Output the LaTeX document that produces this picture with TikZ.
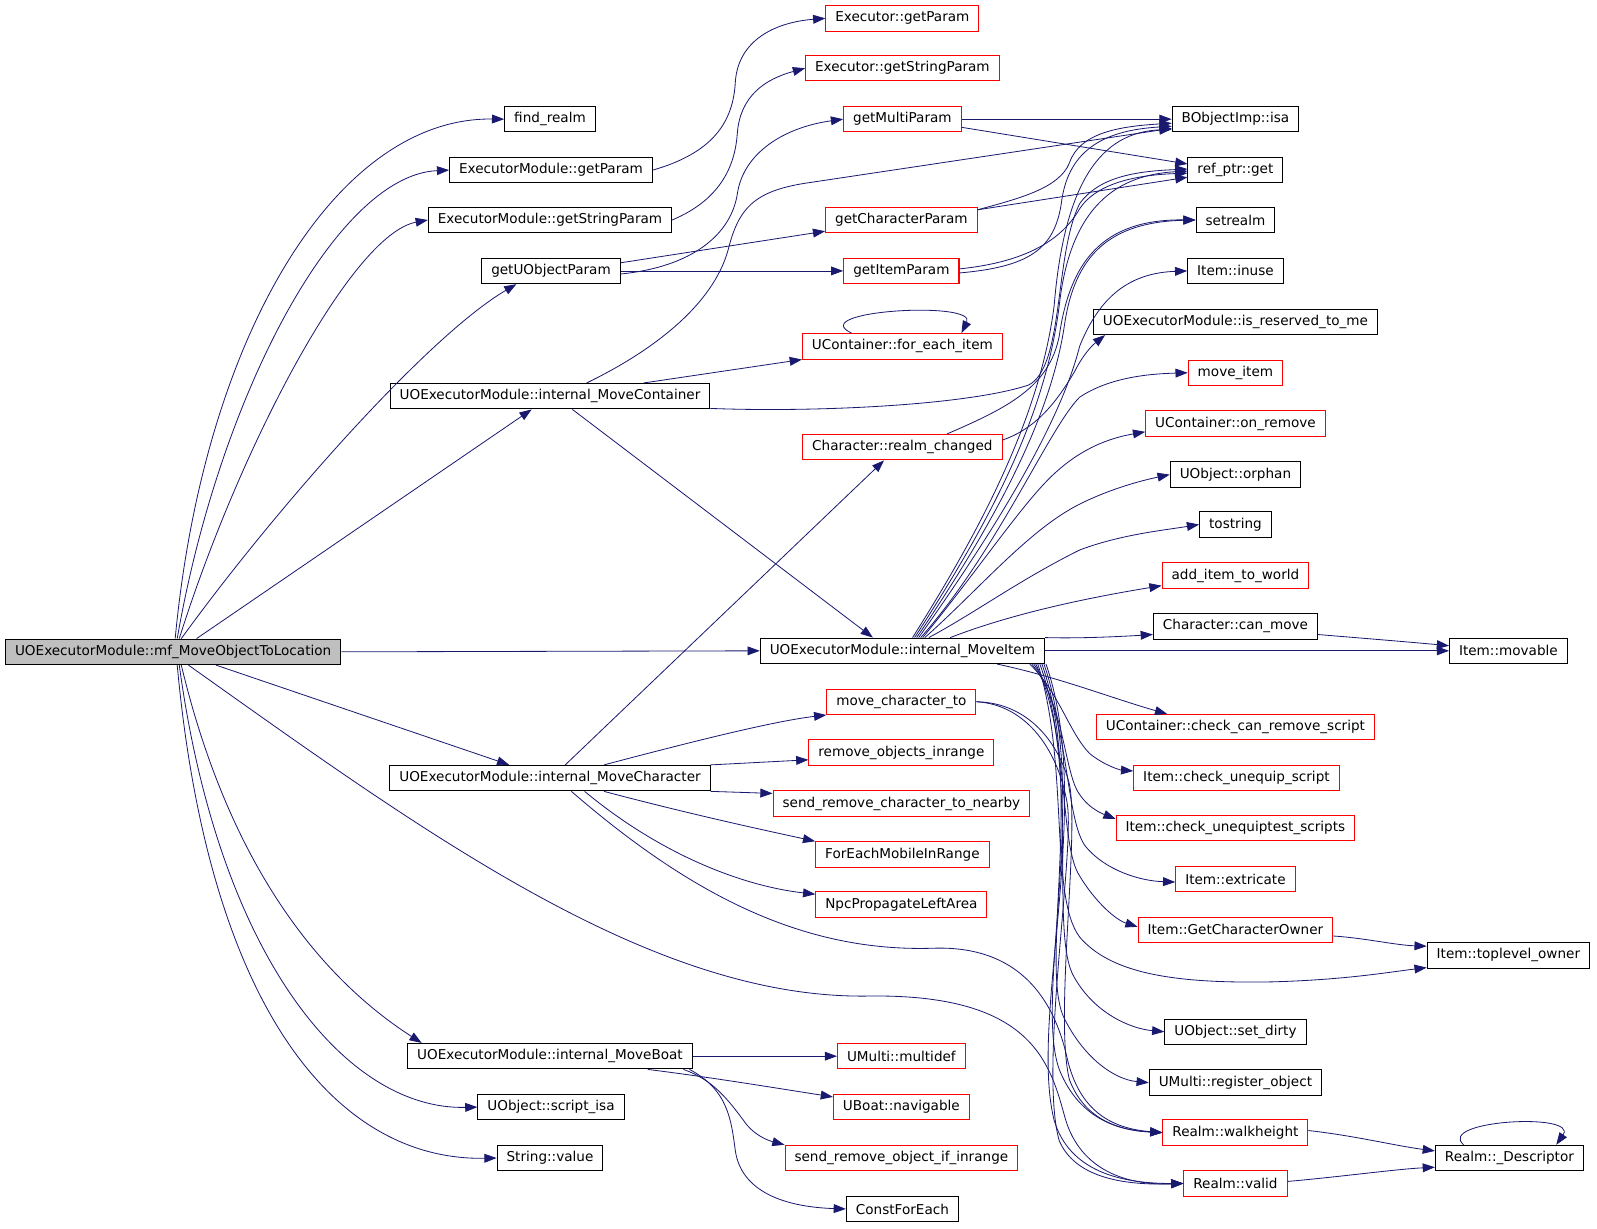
\documentclass[tikz,border=0pt]{standalone}
\usepackage{fontspec}
\setmainfont{DejaVu Sans}
\usetikzlibrary{arrows.meta}
\definecolor{edgeblue}{RGB}{25,25,112}
\definecolor{rootgray}{RGB}{191,191,191}

\begin{document}
\begin{tikzpicture}[x=0.75pt, y=-0.75pt, font=\fontsize{10}{12}\selectfont,
      func/.style = {draw=black, fill=white, inner xsep=7pt, inner ysep=0pt, minimum height=18.75pt, line width=0.75pt},
     trunc/.style = {func, draw=red},
      root/.style = {func, fill=rootgray},
      call/.style = {draw=edgeblue, line width=0.6pt, -{Triangle[length=9pt,width=6.5pt]}}]
    \useasboundingbox (0,0) rectangle (1568,1206);

    % caller
    \node[root] (main) at (170,640) {UOExecutorModule::mf\_MoveObjectToLocation};

    % second column
    \node[func] (findrealm)   at (540,117)  {find\_realm};
    \node[func] (getparam)    at (541,167)  {ExecutorModule::getParam};
    \node[func] (getstrparam) at (540,216)  {ExecutorModule::getStringParam};
    \node[func] (getuobj)     at (541,266)  {getUObjectParam};
    \node[func] (movecont)    at (540,389)  {UOExecutorModule::internal\_MoveContainer};
    \node[func] (movechar)    at (540,764)  {UOExecutorModule::internal\_MoveCharacter};
    \node[func] (moveboat)    at (540,1037) {UOExecutorModule::internal\_MoveBoat};
    \node[func] (scriptisa)   at (541,1087) {UObject::script\_isa};
    \node[func] (strvalue)    at (540,1137) {String::value};

    % third column
    \node[trunc] (exgetparam)   at (886,18)   {Executor::getParam};
    \node[trunc] (exgetstr)     at (886,67)   {Executor::getStringParam};
    \node[trunc] (getmulti)     at (886,117)  {getMultiParam};
    \node[trunc] (getchar)      at (885,216)  {getCharacterParam};
    \node[trunc] (getitem)      at (885,266)  {getItemParam};
    \node[trunc] (foreach)      at (886,340)  {UContainer::for\_each\_item};
    \node[trunc] (realmchg)     at (886,439)  {Character::realm\_changed};
    \node[func]  (moveitem)     at (886,639)  {UOExecutorModule::internal\_MoveItem};
    \node[trunc] (movecharto)   at (885,689)  {move\_character\_to};
    \node[trunc] (removeobj)    at (885,739)  {remove\_objects\_inrange};
    \node[trunc] (sendremchar)  at (885,789)  {send\_remove\_character\_to\_nearby};
    \node[trunc] (foreachmob)   at (886,839)  {ForEachMobileInRange};
    \node[trunc] (npcprop)      at (885,888)  {NpcPropagateLeftArea};
    \node[trunc] (multidef)     at (885,1037) {UMulti::multidef};
    \node[trunc] (navigable)    at (885,1087) {UBoat::navigable};
    \node[trunc] (sendremobj)   at (885,1137) {send\_remove\_object\_if\_inrange};
    \node[func]  (constforeach) at (886,1187) {ConstForEach};

    % fourth column
    \node[func]  (isa)              at (1213,117)  {BObjectImp::isa};
    \node[func]  (refget)           at (1213,167)  {ref\_ptr::get};
    \node[func]  (setrealm)         at (1213,216)  {setrealm};
    \node[func]  (inuse)            at (1213,266)  {Item::inuse};
    \node[func]  (reserved)         at (1213,316)  {UOExecutorModule::is\_reserved\_to\_me};
    \node[trunc] (moveitm)          at (1213,366)  {move\_item};
    \node[trunc] (onremove)         at (1213,416)  {UContainer::on\_remove};
    \node[func]  (orphan)           at (1213,466)  {UObject::orphan};
    \node[func]  (tostring)         at (1213,515)  {tostring};
    \node[trunc] (additem)          at (1213,565)  {add\_item\_to\_world};
    \node[func]  (canmove)          at (1213,615)  {Character::can\_move};
    \node[trunc] (checkcanremove)   at (1213,714)  {UContainer::check\_can\_remove\_script};
    \node[trunc] (checkunequip)     at (1214,764)  {Item::check\_unequip\_script};
    \node[trunc] (checkunequiptest) at (1213,813)  {Item::check\_unequiptest\_scripts};
    \node[trunc] (extricate)        at (1213,863)  {Item::extricate};
    \node[trunc] (getowner)         at (1213,913)  {Item::GetCharacterOwner};
    \node[func]  (setdirty)         at (1213,1013) {UObject::set\_dirty};
    \node[func]  (registerobj)      at (1213,1063) {UMulti::register\_object};
    \node[trunc] (walkheight)       at (1213,1112) {Realm::walkheight};
    \node[trunc] (valid)            at (1213,1162) {Realm::valid};

    % fifth column
    \node[func] (movable)    at (1481,639)  {Item::movable};
    \node[func] (toplevel)   at (1481,938)  {Item::toplevel\_owner};
    \node[func] (descriptor) at (1482,1137) {Realm::\_Descriptor};

    % calls of the root
    \draw[call] (main.north -| 172,0) .. controls (200,330) and (330,115) .. (findrealm.west);
    \draw[call] (main.north -| 174,0) .. controls (215,390) and (330,172) .. (getparam.west);
    \draw[call] (main.north -| 176,0) .. controls (235,440) and (345,230) .. (getstrparam.west);
    \draw[call] (main.north -| 178,0) .. controls (270,500) and (420,330) .. (getuobj.south -| 507,0);
    \draw[call] (main.north -| 193,0) -- (movecont.south -| 522,0);
    \draw[call] (main.east) -- (moveitem.west);
    \draw[call] (main.south -| 212,0) -- (movechar.north -| 500,0);
    \draw[call] (main.south -| 178,0) .. controls (230,870) and (330,970) .. (moveboat.north -| 414,0);
    \draw[call] (main.south -| 176,0) .. controls (215,940) and (340,1090) .. (scriptisa.west);
    \draw[call] (main.south -| 174,0) .. controls (205,990) and (330,1140) .. (strvalue.west);
    \draw[call] (main.south -| 185,0) .. controls (420,820) and (640,980) .. (850,978)
                .. controls (1010,975) and (1030,1040) .. (1045,1095)
                .. controls (1058,1145) and (1100,1164) .. (valid.west);

    % second column calls
    \draw[call] (getparam.east) .. controls (700,150) and (720,120) .. (722,80)
                .. controls (725,40) and (760,22) .. (exgetparam.west);
    \draw[call] (getstrparam.east) .. controls (710,195) and (722,160) .. (724,130)
                .. controls (727,95) and (750,78) .. (exgetstr.west);
    \draw[call] (getuobj.east |- 0,269) .. controls (680,262) and (718,230) .. (724,190)
                .. controls (730,150) and (770,125) .. (getmulti.west);
    \draw[call] (getuobj.east |- 0,258) -- (getchar.west |- 0,227);
    \draw[call] (getuobj.east) -- (getitem.west);
    \draw[call] (movecont.north -| 576,0) .. controls (640,345) and (700,300) .. (715,245)
                .. controls (725,205) and (740,188) .. (790,180) -- (isa.west |- 0,126);
    \draw[call] (movecont.north -| 632,0) -- (foreach.south west);
    \draw[call] (movecont.south -| 562,0) -- (moveitem.north -| 857,0);
    \draw[call] (movecont.east |- 0,401) .. controls (800,405) and (950,398) .. (1010,378)
                .. controls (1045,360) and (1035,250) .. (1060,200)
                .. controls (1080,172) and (1120,168) .. (refget.west |- 0,166);
    \draw[call] (movechar.north -| 555,0) -- (realmchg.south -| 868,0);
    \draw[call] (movechar.north -| 593,0) .. controls (680,728) and (760,708) .. (movecharto.south west);
    \draw[call] (movechar.north east) -- (removeobj.west |- 0,746);
    \draw[call] (movechar.south east) -- (sendremchar.west |- 0,779);
    \draw[call] (movechar.south -| 593,0) .. controls (680,800) and (750,815) .. (foreachmob.north west);
    \draw[call] (movechar.south -| 574,0) .. controls (650,840) and (730,870) .. (npcprop.west |- 0,878);
    \draw[call] (movechar.south -| 561,0) .. controls (680,880) and (790,935) .. (916,931)
                .. controls (1000,928) and (1035,980) .. (1048,1040)
                .. controls (1060,1090) and (1090,1108) .. (walkheight.west);
    \draw[call] (moveboat.east) -- (multidef.west);
    \draw[call] (moveboat.south -| 636,0) .. controls (700,1058) and (760,1068) .. (navigable.west |- 0,1077);
    \draw[call] (moveboat.south -| 671,0) .. controls (700,1060) and (715,1080) .. (730,1100)
                .. controls (740,1115) and (755,1120) .. (sendremobj.north west);
    \draw[call] (moveboat.south -| 677,0) .. controls (715,1070) and (718,1100) .. (722,1130)
                .. controls (728,1170) and (770,1185) .. (constforeach.west);

    % third column calls
    \draw[call] (foreach.north -| 836,0) .. controls (790,305) and (960,295) .. (foreach.north -| 944,0);
    \draw[call] (getmulti.east) -- (isa.west);
    \draw[call] (getmulti.east |- 0,125) -- (refget.west |- 0,161);
    \draw[call] (getchar.east |- 0,206) .. controls (1000,195) and (1040,185) .. (1050,160)
                .. controls (1060,130) and (1100,124) .. (isa.west |- 0,121);
    \draw[call] (getchar.east |- 0,206) -- (refget.west |- 0,174);
    \draw[call] (getitem.east |- 0,264) .. controls (1000,258) and (1040,240) .. (1060,205)
                .. controls (1075,182) and (1110,172) .. (refget.west |- 0,170);
    \draw[call] (getitem.east |- 0,268) .. controls (1010,262) and (1035,245) .. (1042,200)
                .. controls (1048,150) and (1080,128) .. (isa.west |- 0,124);
    \draw[call] (realmchg.north -| 930,0) .. controls (990,400) and (1030,380) .. (1040,330)
                .. controls (1050,260) and (1080,215) .. (setrealm.west);
    \draw[call] (realmchg.east |- 0,432) .. controls (1020,420) and (1040,390) .. (1055,365)
                .. controls (1065,345) and (1075,337) .. (reserved.south -| 1085,0);

    % internal_MoveItem, upwards
    \draw[call] (moveitem.north -| 896,0) .. controls (950,540) and (1020,420) .. (1035,300)
                .. controls (1045,180) and (1080,130) .. (isa.west |- 0,127);
    \draw[call] (moveitem.north -| 898,0) .. controls (960,530) and (1025,420) .. (1040,300)
                .. controls (1050,210) and (1090,172) .. (refget.west |- 0,168);
    \draw[call] (moveitem.north -| 900,0) .. controls (965,530) and (1030,420) .. (1045,320)
                .. controls (1055,250) and (1090,218) .. (setrealm.west);
    \draw[call] (moveitem.north -| 902,0) .. controls (970,530) and (1040,420) .. (1060,340)
                .. controls (1080,290) and (1110,268) .. (inuse.west);
    \draw[call] (moveitem.north -| 904,0) .. controls (980,540) and (1030,420) .. (1060,390)
                .. controls (1090,370) and (1130,367) .. (moveitm.west);
    \draw[call] (moveitem.north -| 906,0) .. controls (960,560) and (1000,500) .. (1030,470)
                .. controls (1060,440) and (1090,430) .. (onremove.west |- 0,424);
    \draw[call] (moveitem.north -| 908,0) .. controls (960,580) and (1010,520) .. (1060,495)
                .. controls (1090,480) and (1120,472) .. (orphan.west);
    \draw[call] (moveitem.north -| 912,0) .. controls (960,600) and (1000,570) .. (1060,540)
                .. controls (1100,525) and (1140,521) .. (tostring.west);
    \draw[call] (moveitem.north -| 933,0) .. controls (1000,600) and (1080,585) .. (additem.west |- 0,575);
    \draw[call] (moveitem.north east) .. controls (1060,627) and (1100,625) .. (canmove.west |- 0,623);
    \draw[call] (moveitem.east) -- (movable.west);
    \draw[call] (canmove.east |- 0,623) .. controls (1330,626) and (1380,630) .. (movable.west |- 0,634);

    % internal_MoveItem, downwards
    \draw[call] (moveitem.south -| 979,0) .. controls (1040,665) and (1090,685) .. (checkcanremove.north -| 1146,0);
    \draw[call] (moveitem.south -| 1011,0) .. controls (1040,680) and (1050,720) .. (1070,740)
                .. controls (1085,752) and (1100,756) .. (checkunequip.west |- 0,757);
    \draw[call] (moveitem.south -| 1013,0) .. controls (1045,690) and (1045,760) .. (1060,780)
                .. controls (1070,795) and (1085,800) .. (checkunequiptest.west |- 0,804);
    \draw[call] (moveitem.south -| 1015,0) .. controls (1050,700) and (1045,800) .. (1065,830)
                .. controls (1085,855) and (1120,865) .. (extricate.west |- 0,866);
    \draw[call] (moveitem.south -| 1017,0) .. controls (1050,720) and (1040,830) .. (1060,860)
                .. controls (1075,885) and (1095,903) .. (getowner.west |- 0,910);
    \draw[call] (moveitem.south -| 1019,0) .. controls (1050,750) and (1030,880) .. (1060,920)
                .. controls (1090,955) and (1150,966) .. (1250,964)
                .. controls (1320,962) and (1360,955) .. (toplevel.west |- 0,950);
    \draw[call] (moveitem.south -| 1021,0) .. controls (1060,760) and (1030,920) .. (1055,960)
                .. controls (1075,995) and (1110,1010) .. (setdirty.west |- 0,1013);
    \draw[call] (moveitem.south -| 1023,0) .. controls (1065,770) and (1020,950) .. (1045,1000)
                .. controls (1065,1040) and (1095,1060) .. (registerobj.west);
    \draw[call] (moveitem.south -| 1025,0) .. controls (1070,780) and (1015,980) .. (1040,1050)
                .. controls (1060,1100) and (1100,1110) .. (walkheight.west);
    \draw[call] (moveitem.south -| 1027,0) .. controls (1075,790) and (1010,1000) .. (1035,1100)
                .. controls (1050,1150) and (1100,1162) .. (valid.west);
    \draw[call] (movecharto.east) .. controls (1010,690) and (1040,730) .. (1050,770)
                .. controls (1060,820) and (1035,1000) .. (1050,1060)
                .. controls (1065,1100) and (1100,1110) .. (walkheight.west);
    \draw[call] (movecharto.east) .. controls (1010,692) and (1040,740) .. (1048,790)
                .. controls (1055,840) and (1020,1050) .. (1040,1120)
                .. controls (1055,1155) and (1100,1164) .. (valid.west);

    % last column
    \draw[call] (getowner.east |- 0,919) .. controls (1340,921) and (1370,928) .. (toplevel.west |- 0,929);
    \draw[call] (walkheight.east |- 0,1110) .. controls (1330,1115) and (1370,1125) .. (descriptor.west |- 0,1130);
    \draw[call] (valid.east |- 0,1160) .. controls (1320,1155) and (1370,1148) .. (descriptor.west |- 0,1146);
    \draw[call] (descriptor.north -| 1437,0) .. controls (1410,1100) and (1550,1092) .. (descriptor.north -| 1528,0);
\end{tikzpicture}
\end{document}
